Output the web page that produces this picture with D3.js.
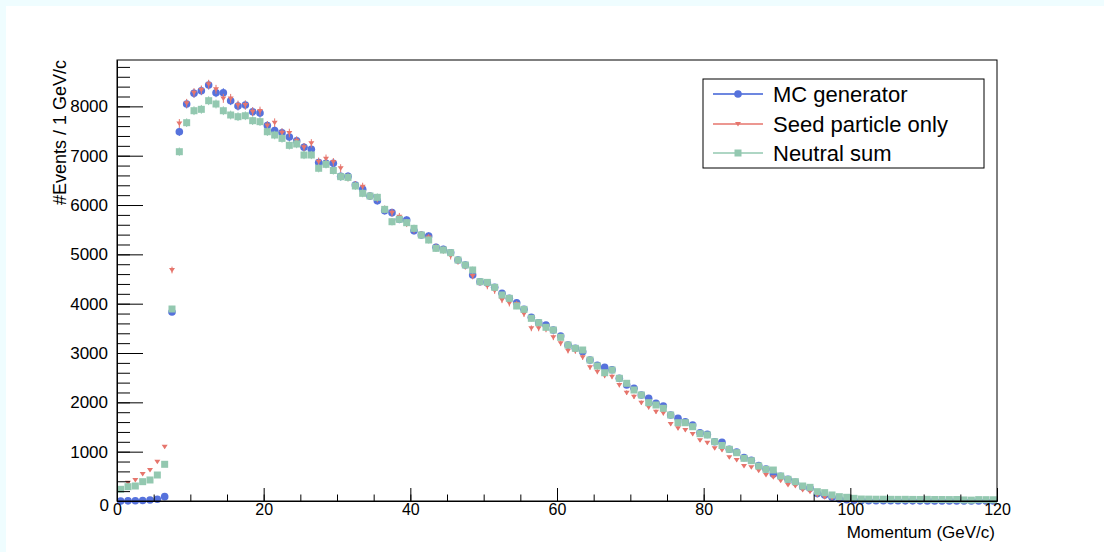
<!DOCTYPE html>
<html>
<head>
<meta charset="utf-8">
<title>Momentum</title>
<style>
  body { margin: 0; background: #fff; }
  text { font-family: "Liberation Sans", Arial, Helvetica, sans-serif; }
</style>
</head>
<body>
<script src="https://d3js.org/d3.v7.min.js"></script>
<script>
// bin contents, 1 GeV bins from 0 to 120
var mcGen = [0, 3, 5, 10, 20, 34, 88, 3831, 7486, 8048,
  8264, 8318, 8433, 8277, 8277, 8115, 8007, 8027, 7892, 7865,
  7610, 7510, 7466, 7380, 7300, 7170, 7130, 6860, 6845, 6845,
  6580, 6580, 6406, 6318, 6183, 6088, 5885, 5845, 5710, 5696,
  5479, 5392, 5372, 5142, 5102, 5034, 4885, 4784, 4581, 4446,
  4420, 4332, 4210, 4108, 4020, 3885, 3723, 3615, 3568, 3466,
  3345, 3162, 3095, 3027, 2858, 2750, 2710, 2660, 2487, 2352,
  2284, 2149, 2082, 1980, 1926, 1743, 1676, 1608, 1541, 1385,
  1350, 1202, 1190, 1048, 990, 880, 825, 720, 650, 547,
  500, 440, 380, 290, 260, 150, 120, 75, 40, 25,
  15, 8, 6, 5, 5, 4, 4, 3, 3, 3,
  2, 2, 2, 2, 1, 1, 1, 1, 1, 1];

var seedOnly = [257, 371, 425, 547, 628, 797, 1101, 4683, 7655, 8062,
  8277, 8332, 8447, 8345, 8162, 8162, 8027, 8027, 7892, 7905,
  7610, 7669, 7466, 7460, 7304, 7170, 7250, 6879, 6940, 6870,
  6745, 6561, 6406, 6372, 6183, 6135, 5912, 5845, 5764, 5628,
  5500, 5400, 5340, 5142, 5088, 4966, 4860, 4760, 4561, 4430,
  4358, 4264, 4075, 4007, 3993, 3791, 3500, 3500, 3480, 3318,
  3196, 3047, 3040, 2913, 2710, 2621, 2540, 2520, 2352, 2196,
  2115, 1993, 1899, 1810, 1777, 1561, 1473, 1439, 1358, 1230,
  1180, 1068, 1034, 886, 831, 709, 683, 614, 527, 480,
  412, 324, 304, 223, 189, 122, 75, 54, 34, 20,
  10, 5, 4, 4, 3, 3, 2, 2, 2, 2,
  1, 1, 1, 1, 1, 1, 0, 0, 0, 0];

var neutralSum = [237, 290, 304, 392, 426, 527, 744, 3892, 7081, 7669,
  7912, 7940, 8115, 8048, 7912, 7825, 7791, 7810, 7710, 7690,
  7486, 7419, 7351, 7210, 7237, 7014, 7014, 6745, 6825, 6700,
  6575, 6560, 6386, 6237, 6183, 6156, 5912, 5662, 5710, 5642,
  5527, 5392, 5291, 5122, 5088, 5034, 4885, 4784, 4683, 4446,
  4432, 4332, 4176, 4108, 3953, 3885, 3703, 3615, 3521, 3466,
  3318, 3162, 3095, 3061, 2858, 2737, 2600, 2655, 2487, 2386,
  2250, 2149, 1993, 1946, 1879, 1743, 1587, 1587, 1506, 1365,
  1338, 1202, 1125, 1048, 979, 865, 817, 709, 643, 628,
  507, 440, 392, 304, 277, 189, 169, 122, 88, 75,
  54, 40, 38, 36, 36, 34, 33, 34, 32, 31,
  33, 30, 30, 29, 30, 22, 18, 28, 27, 25];

var seriesNames = ["MC generator", "Seed particle only", "Neutral sum"];
var xTicks = [0, 20, 40, 60, 80, 100, 120];
var yTicks = [0, 1000, 2000, 3000, 4000, 5000, 6000, 7000, 8000];

var W = 1104, H = 552;
var frame = {left: 117, right: 997, top: 60, bottom: 501};

var svg = d3.select("body").append("svg")
    .attr("width", W)
    .attr("height", H);

// pale canvas border like the ROOT window
svg.append("rect").attr("width", W).attr("height", H).attr("fill", "#effdff");
svg.append("rect").attr("x", 6).attr("y", 6).attr("width", W - 6).attr("height", H - 6).attr("fill", "#fff");

var x = d3.scaleLinear().domain([0, 120]).range([frame.left, frame.right]);
var y = d3.scaleLinear().domain([0, 8940]).range([frame.bottom, frame.top]);

var series = [
  {name: seriesNames[0], values: mcGen, color: "#5672dc", line: "#3d5fd6", shape: "circle"},
  {name: seriesNames[1], values: seedOnly, color: "#e6756c", line: "#e6756c", shape: "tri"},
  {name: seriesNames[2], values: neutralSum, color: "#93c8b0", line: "#93c8b0", shape: "square"}
];

function drawMarker(g, shape, color) {
  if (shape == "circle") {
    g.append("circle").attr("r", 3.8).attr("fill", color);
  } else if (shape == "square") {
    g.append("rect").attr("x", -3.5).attr("y", -3.5).attr("width", 7).attr("height", 7).attr("fill", color);
  } else {
    g.append("path").attr("d", "M-3,-2L3,-2L0,2.5Z").attr("fill", color);
  }
}

var plot = svg.append("g");

series.forEach(function(s) {
  var g = plot.append("g");
  var pts = g.selectAll(".pt")
      .data(s.values.map(function(v, i){ return {bin: i, v: v}; }))
      .enter()
      .append("g")
      .attr("class", "pt")
      .attr("transform", function(d){ return "translate(" + x(d.bin + 0.5) + "," + y(d.v) + ")"; });

  // statistical error bars
  pts.append("line")
      .attr("x1", 0).attr("x2", 0)
      .attr("y1", function(d){ return y(d.v + Math.sqrt(d.v)) - y(d.v); })
      .attr("y2", function(d){ return y(Math.max(0, d.v - Math.sqrt(d.v))) - y(d.v); })
      .attr("stroke", s.color)
      .attr("stroke-width", 1);

  pts.each(function(){ drawMarker(d3.select(this), s.shape, s.color); });
});

// axes
var yAxis = svg.append("g")
    .attr("transform", "translate(" + frame.left + ",0)")
    .call(d3.axisLeft(y).tickValues(yTicks).tickFormat(d3.format("d"))
      .tickSizeInner(-26).tickSizeOuter(0).tickPadding(9));
svg.append("g")
    .attr("transform", "translate(" + frame.left + ",0)")
    .call(d3.axisLeft(y).tickValues(d3.range(0, 8801, 200)).tickSizeInner(-13).tickSizeOuter(0).tickFormat(""));

var xAxis = svg.append("g")
    .attr("transform", "translate(0," + frame.bottom + ")")
    .call(d3.axisBottom(x).tickValues(xTicks).tickFormat(d3.format("d"))
      .tickSizeInner(-13).tickSizeOuter(0).tickPadding(3));
svg.append("g")
    .attr("transform", "translate(0," + frame.bottom + ")")
    .call(d3.axisBottom(x).tickValues(d3.range(0, 121, 5)).tickSizeInner(-6.5).tickSizeOuter(0).tickFormat(""));

svg.selectAll(".tick line").attr("stroke", "#000");
svg.selectAll(".domain").attr("stroke", "#000");
yAxis.selectAll("text").attr("font-size", 17).attr("fill", "#000")
    .attr("font-family", "Liberation Sans, Arial, sans-serif");
xAxis.selectAll("text").attr("font-size", 16).attr("fill", "#000")
    .attr("font-family", "Liberation Sans, Arial, sans-serif");
yAxis.selectAll(".tick").filter(function(d){ return d == 0; }).select("text").attr("dy", "0.55em").attr("x", -8);

// frame
svg.append("rect")
    .attr("x", frame.left).attr("y", frame.top)
    .attr("width", frame.right - frame.left).attr("height", frame.bottom - frame.top)
    .attr("fill", "none").attr("stroke", "#000").attr("stroke-width", 1);

// axis titles
svg.append("text")
    .attr("x", frame.right - 2).attr("y", 538)
    .attr("text-anchor", "end")
    .attr("font-size", 17)
    .text("Momentum (GeV/c)");

svg.append("text")
    .attr("transform", "translate(66," + frame.top + ") rotate(-90)")
    .attr("text-anchor", "end")
    .attr("font-size", 18)
    .text("#Events / 1 GeV/c");

// legend
var legend = svg.append("g");
legend.append("rect")
    .attr("x", 703).attr("y", 79).attr("width", 281).attr("height", 89)
    .attr("fill", "#fff").attr("stroke", "#000").attr("stroke-width", 1);

var rowY = [94, 124, 153];
series.forEach(function(s, i) {
  var row = legend.append("g").attr("transform", "translate(0," + rowY[i] + ")");
  row.append("line").attr("x1", 713).attr("x2", 763).attr("stroke", s.line).attr("stroke-width", 1.3);
  var m = row.append("g").attr("transform", "translate(738,0)");
  drawMarker(m, s.shape, s.color);
  row.append("text").attr("x", 773).attr("dy", "0.36em").attr("font-size", 22).text(s.name);
});
</script>
</body>
</html>
